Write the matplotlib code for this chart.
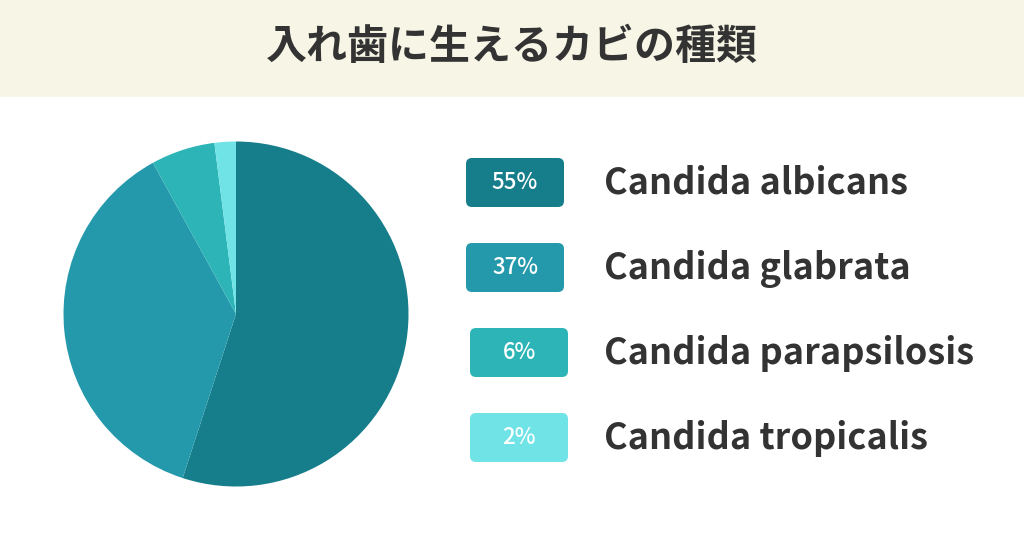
import matplotlib
matplotlib.use("Agg")
import matplotlib.pyplot as plt
from matplotlib.patches import FancyBboxPatch, Rectangle

plt.rcParams['font.family'] = ['Noto Sans CJK JP', 'DejaVu Sans']

title = "入れ歯に生えるカビの種類"
categories = ["Candida albicans", "Candida glabrata", "Candida parapsilosis", "Candida tropicalis"]
values = [55, 37, 6, 2]
labels = ["55%", "37%", "6%", "2%"]
colors = ["#167d8b", "#2599ac", "#2cb4b6", "#6fe3e6"]

W, H = 1024, 538
fig = plt.figure(figsize=(W / 100, H / 100), dpi=100)
fig.patch.set_facecolor("white")

# header band
fig.patches.append(Rectangle((0, 1 - 97 / H), 1, 97 / H, transform=fig.transFigure,
                             facecolor="#f7f6e6", edgecolor="none", zorder=0))
fig.text(0.5, 1 - 47 / H, title, ha="center", va="center", fontsize=29.5,
         fontweight="bold", color="#333333")

# pie
cx, cy, r = 236, 314, 172.5
ax = fig.add_axes([(cx - r) / W, (H - cy - r) / H, 2 * r / W, 2 * r / H])
ax.pie(values, colors=colors, startangle=90, counterclock=False, radius=1,
       wedgeprops=dict(linewidth=0))
ax.set_xlim(-1, 1)
ax.set_ylim(-1, 1)
ax.set_aspect("equal")
ax.axis("off")

# legend
box_x = [466, 466, 470, 470]
box_y = [158, 243, 328, 413]
bw, bh = 98, 49
for i, (cat, lab, col) in enumerate(zip(categories, labels, colors)):
    x0, y0 = box_x[i], box_y[i]
    p = FancyBboxPatch(((x0 + 6) / W, (H - y0 - bh + 6) / H), (bw - 12) / W, (bh - 12) / H,
                       boxstyle="round,pad=0.00586", transform=fig.transFigure,
                       facecolor=col, edgecolor="none", mutation_aspect=W / H)
    fig.patches.append(p)
    fig.text((x0 + bw / 2) / W, 1 - (y0 + bh / 2) / H, lab, ha="center", va="center",
             fontsize=16, color="white", fontweight="medium")
    fig.text(604 / W, 1 - (y0 + bh / 2 + 1) / H, cat, ha="left", va="center",
             fontsize=26, color="#333333", fontweight="bold")

fig.savefig("out.png", dpi=100, facecolor="white")
